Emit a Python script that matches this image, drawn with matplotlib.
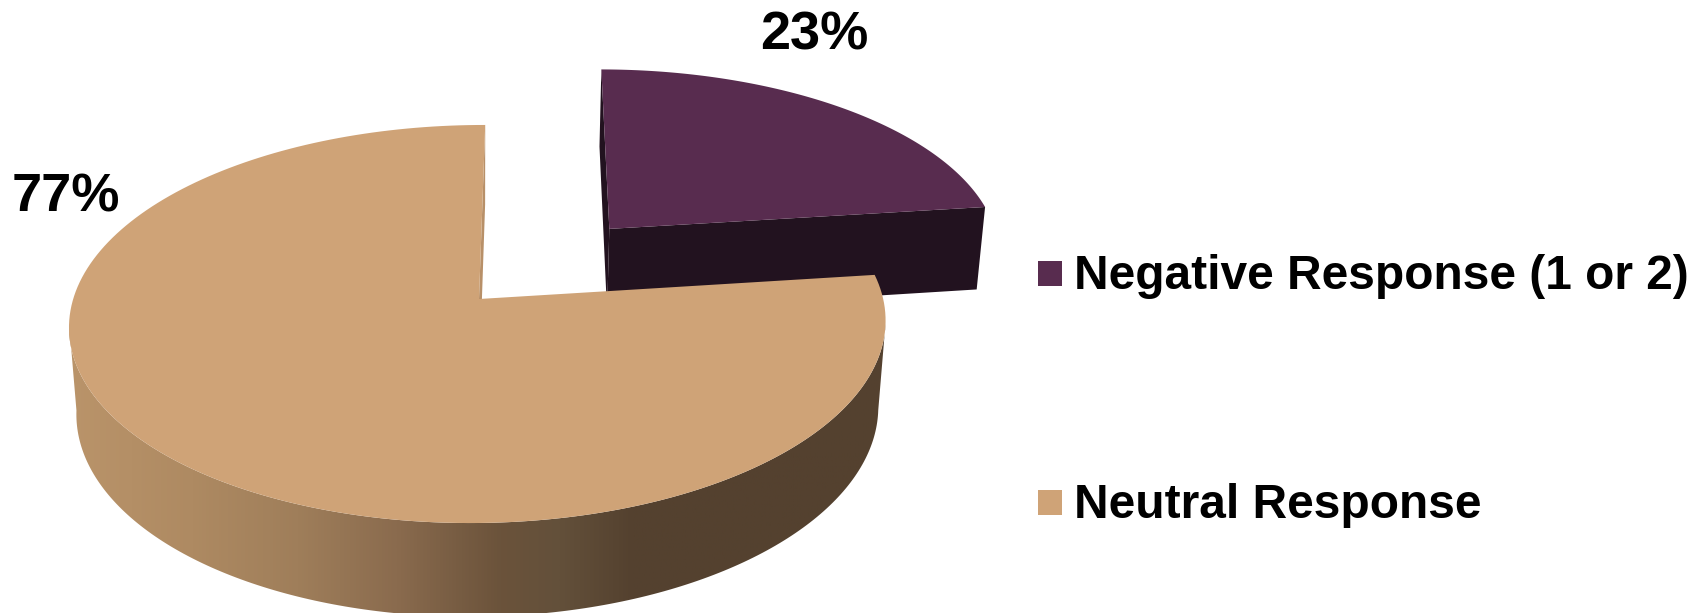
import numpy as np
import matplotlib
matplotlib.use('Agg')
import matplotlib.pyplot as plt
from matplotlib.colors import LinearSegmentedColormap
from matplotlib.patches import Polygon, Rectangle

categories = ['Negative Response (1 or 2)', 'Neutral Response']
values = [23, 77]
labels = ['23%', '77%']
top_colors = ['#582C4F', '#CFA377']
cut_colors = ['#22121F', '#B89068']

plt.rcParams['font.family'] = ['Liberation Sans', 'DejaVu Sans']
plt.rcParams['font.weight'] = 'bold'

# perspective of the tilted disc, all in pixels of the picture
X0, Y0 = 479, 299
A, B, SHEAR = 405, 195.9, 7
K, M = 0.1256, 0.002
# how far down the sides go: vanishing point of the verticals
THICK = 0.018
VX, VY = 479, 5170
EXPLODE = 0.50


def project(u, v):
    w = 1 + K * v + M * u
    return X0 + (A * u + SHEAR * v) / w, Y0 - B * v / w, w


def lower(x, y, w):
    return (w * x + THICK * VX) / (w + THICK), (w * y + THICK * VY) / (w + THICK)


def arc(a0, a1, off=(0, 0), n=200):
    t = np.radians(np.linspace(a0, a1, n))
    return np.sin(t) + off[0], np.cos(t) + off[1]


fig = plt.figure(figsize=(17.06, 6.13), dpi=100)
ax = fig.add_axes([0, 0, 1, 1])

end_neg = values[0] / sum(values) * 360
mid = np.radians(end_neg / 2)
off = (EXPLODE * np.sin(mid), EXPLODE * np.cos(mid))

# detached slice: the two cut faces, then its top
apex = project(off[0], off[1])
u, v = arc(0, end_neg, off)
x, y, w = project(u, v)
for i in (0, -1):
    lo_a = lower(*apex)
    lo_e = lower(x[i], y[i], w[i])
    ax.add_patch(Polygon([apex[:2], (x[i], y[i]), lo_e, lo_a], fc=cut_colors[0], ec='none', zorder=1))
ax.add_patch(Polygon(np.r_[[apex[:2]], np.c_[x, y]], fc=top_colors[0], ec='none', zorder=2))

# big slice: inner cut face seen behind the top
apex = project(0, 0)
tx, ty, tw = project(0, 1)
ax.add_patch(Polygon([apex[:2], (tx, ty), lower(tx, ty, tw), lower(*apex)],
                     fc=cut_colors[1], ec='none', zorder=3))

# round side with the shading running left to right
u, v = arc(97, 263)
x, y, w = project(u, v)
lx, ly = lower(x, y, w)
side = Polygon(np.r_[np.c_[x, y], np.c_[lx, ly][::-1]], fc='none', ec='none', zorder=3)
ax.add_patch(side)
shade = LinearSegmentedColormap.from_list('side', [
    (0.0, '#BA946A'), (0.15, '#AE8A62'), (0.28, '#9F7E5A'), (0.4, '#8A6B4E'),
    (0.527, '#6B533B'), (0.6, '#63503A'), (0.69, '#54412F'), (1.0, '#54412F')])
im = ax.imshow(np.linspace(0, 1, 512).reshape(1, -1), cmap=shade, extent=(68, 888, 613, 300),
               aspect='auto', zorder=4)
im.set_clip_path(side)

# big slice top
u, v = arc(end_neg, 360)
x, y, w = project(u, v)
ax.add_patch(Polygon(np.r_[[apex[:2]], np.c_[x, y]], fc=top_colors[1], ec='none', zorder=5))

ax.text(814, 50, labels[0], fontsize=39, ha='center', va='baseline', color='black')
ax.text(65.5, 212, labels[1], fontsize=39, ha='center', va='baseline', color='black')

ax.add_patch(Rectangle((1038, 261), 24, 25, fc=top_colors[0], ec='none'))
ax.add_patch(Rectangle((1038, 490), 24, 25, fc=top_colors[1], ec='none'))
ax.text(1074, 289, categories[0], fontsize=34.5, va='baseline', color='black')
ax.text(1074, 518, categories[1], fontsize=34.5, va='baseline', color='black')

ax.set_xlim(0, 1706)
ax.set_ylim(613, 0)
ax.axis('off')
fig.savefig('out.png', dpi=100)
